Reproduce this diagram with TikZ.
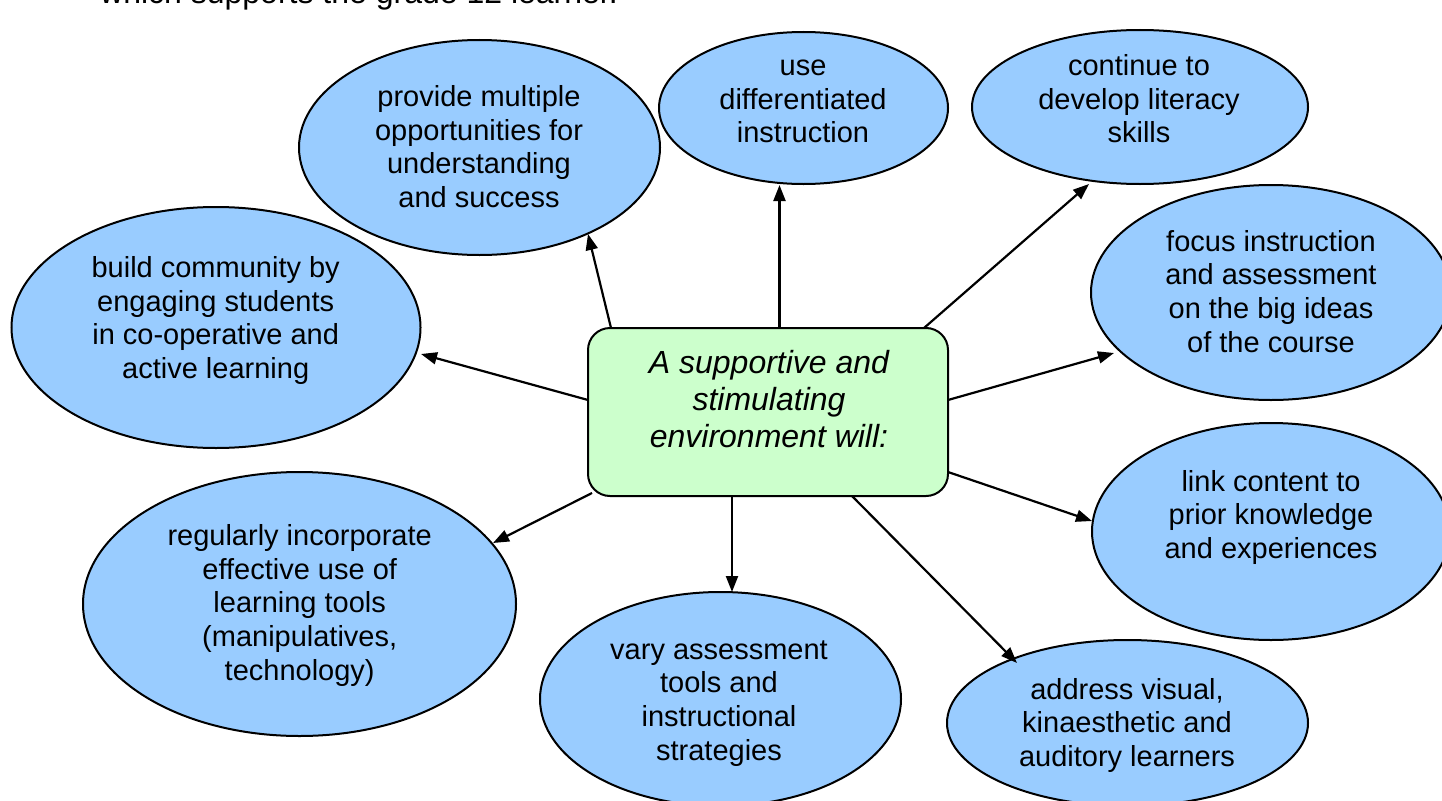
\documentclass[tikz,border=0pt]{standalone}
\usepackage{fontspec}
\setmainfont{Liberation Sans}
\usetikzlibrary{shapes.geometric,arrows.meta,calc}
\definecolor{bubbleblue}{HTML}{99CCFF}
\definecolor{coregreen}{HTML}{CCFFCC}
\begin{document}
\begin{tikzpicture}[x=1pt,y=-1pt,
  bubble/.style={ellipse,draw=black,line width=2pt,fill=bubbleblue,inner sep=0pt,outer sep=0pt},
  lbl/.style={anchor=north,align=center,inner sep=0pt,font=\fontsize{29}{33.6}\selectfont},
  corebox/.style={draw=black,line width=2pt,fill=coregreen,rounded corners=22pt,inner sep=0pt,outer sep=0pt},
  arr/.style={line width=2.2pt,-{Triangle[length=16pt,width=12pt]}},
]
\useasboundingbox (0,0) rectangle (1442,800);

% heading fragment (cut at the top edge, as in the reference)
\node[anchor=base west,inner sep=0pt,font=\fontsize{32}{37}\selectfont] (head) at (100,3.5) {which supports the grade 12 learner.};

% ellipses
\node[bubble,minimum width=409pt,minimum height=241pt] (e1) at (216,327.5) {};
\node[bubble,minimum width=361pt,minimum height=215pt] (e2) at (479.5,147.5) {};
\node[bubble,minimum width=289pt,minimum height=152pt] (e3) at (803.5,108) {};
\node[bubble,minimum width=336pt,minimum height=154pt] (e4) at (1140,107) {};
\node[bubble,minimum width=360pt,minimum height=215pt] (e5) at (1271,292.5) {};
\node[bubble,minimum width=358pt,minimum height=217pt] (e6) at (1271,531.5) {};
\node[bubble,minimum width=361pt,minimum height=166pt] (e7) at (1127.5,723) {};
\node[bubble,minimum width=361pt,minimum height=214pt] (e8) at (720.5,699) {};
\node[bubble,minimum width=433pt,minimum height=264pt] (e9) at (299.5,604) {};

% central box
\node[corebox,minimum width=360pt,minimum height=168pt] (c) at (768,412) {};
\node[anchor=north,align=center,inner sep=0pt,font=\fontsize{32}{37}\selectfont\itshape] (c0) at (769,347.1)
  {\strut A supportive and\\stimulating\\environment will:};

% labels
\node[lbl] (l1) at (215.7,254) {\strut build community by\\engaging students\\in co-operative and\\active learning};
\node[lbl] (l2) at (479,83) {\strut provide multiple\\opportunities for\\understanding\\and success};
\node[lbl] (l3) at (803,52) {\strut use\\differentiated\\instruction};
\node[lbl] (l4) at (1139,52) {\strut continue to\\develop literacy\\skills};
\node[lbl] (l5) at (1271,227.5) {\strut focus instruction\\and assessment\\on the big ideas\\of the course};
\node[lbl] (l6) at (1271,467.5) {\strut link content to\\prior knowledge\\and experiences};
\node[lbl] (l7) at (1127,675.5) {\strut address visual,\\kinaesthetic and\\auditory learners};
\node[lbl] (l8) at (719,635.5) {\strut vary assessment\\tools and\\instructional\\strategies};
\node[lbl] (l9) at (299.7,522) {\strut regularly incorporate\\effective use of\\learning tools\\(manipulatives,\\technology)};

% connectors
\draw[arr] ($(c.center)+(-180,-12)$) -- ($(e1.center)+(205,26.5)$);
\draw[arr] ($(c.center)+(-157,-84)$) -- ($(e2.center)+(108.5,86.5)$);
\draw[arr] ($(c.center)+(11.5,-84)$) -- ($(e3.center)+(-24,77)$);
\draw[arr] ($(c.center)+(156,-84)$) -- ($(e4.center)+(-51,77)$);
\draw[arr] ($(c.center)+(180,-12)$) -- ($(e5.center)+(-157,60.5)$);
\draw[arr] ($(c.center)+(180,60)$) -- ($(e6.center)+(-179,-10.5)$);
\draw[arr] ($(c.center)+(84,84)$) -- ($(e7.center)+(-110.5,-60)$);
\draw[arr] ($(c.center)+(-36,84)$) -- ($(e8.center)+(11.5,-107)$);
\draw[arr] ($(c.center)+(-176,81)$) -- ($(e9.center)+(193.5,-61)$);
\end{tikzpicture}
\end{document}
